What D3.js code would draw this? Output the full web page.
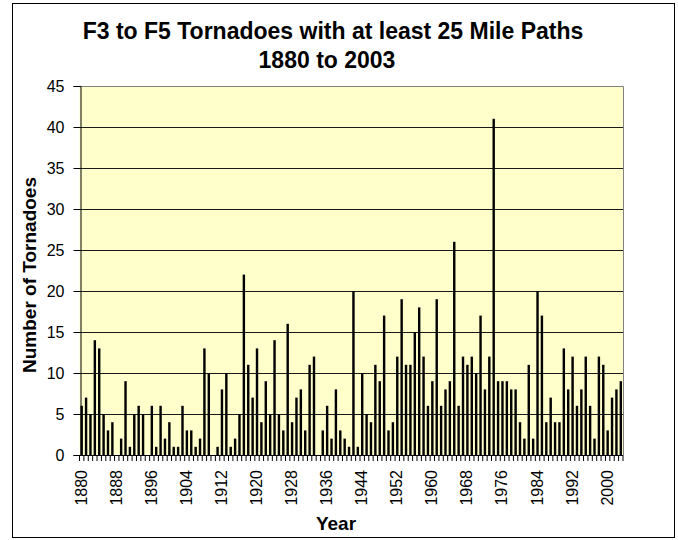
<!DOCTYPE html>
<html><head><meta charset="utf-8">
<script src="https://cdn.jsdelivr.net/npm/d3@7/dist/d3.min.js"></script>
<style>
body{margin:0;background:#fff}
svg{display:block}
text{font-family:"Liberation Sans",Arial,Helvetica,sans-serif;fill:#000}
</style>
</head><body>
<svg id="c" width="678" height="540"></svg>
<script>
const years = [
  1880,1881,1882,1883,1884,1885,1886,1887,
  1888,1889,1890,1891,1892,1893,1894,1895,
  1896,1897,1898,1899,1900,1901,1902,1903,
  1904,1905,1906,1907,1908,1909,1910,1911,
  1912,1913,1914,1915,1916,1917,1918,1919,
  1920,1921,1922,1923,1924,1925,1926,1927,
  1928,1929,1930,1931,1932,1933,1934,1935,
  1936,1937,1938,1939,1940,1941,1942,1943,
  1944,1945,1946,1947,1948,1949,1950,1951,
  1952,1953,1954,1955,1956,1957,1958,1959,
  1960,1961,1962,1963,1964,1965,1966,1967,
  1968,1969,1970,1971,1972,1973,1974,1975,
  1976,1977,1978,1979,1980,1981,1982,1983,
  1984,1985,1986,1987,1988,1989,1990,1991,
  1992,1993,1994,1995,1996,1997,1998,1999,
  2000,2001,2002,2003
];
const tornadoes = [
  6,7,5,14,13,5,3,4,
  0,2,9,1,5,6,5,0,
  6,1,6,2,4,1,1,6,
  3,3,1,2,13,10,0,1,
  8,10,1,2,5,22,11,7,
  13,4,9,5,14,5,3,16,
  4,7,8,3,11,12,0,3,
  6,2,8,3,2,1,20,1,
  10,5,4,11,9,17,3,4,
  12,19,11,11,15,18,12,6,
  9,19,6,8,9,26,6,12,
  11,12,10,17,8,12,41,9,
  9,9,8,8,4,2,11,2,
  20,17,4,7,4,4,13,8,
  12,6,8,12,6,2,12,11,
  3,7,8,9
];
const xTickLabels = ["1880","1888","1896","1904","1912","1920","1928","1936","1944","1952","1960","1968","1976","1984","1992","2000"];
const yTicks = [0,5,10,15,20,25,30,35,40,45];
const titleLines = ["F3 to F5 Tornadoes with at least 25 Mile Paths", "1880 to 2003"];
const xTitle = "Year";
const yTitle = "Number of Tornadoes";

const data = years.map((yr, i) => ({year: String(yr), value: tornadoes[i]}));

const svg = d3.select("#c");
const L = 79.5, R = 623, T = 86, B = 455;

const x = d3.scaleBand().domain(data.map(d => d.year)).range([L, R])
  .paddingInner(0.45).paddingOuter(0.225);
const y = d3.scaleLinear().domain([0, 45]).range([B, T]);
const crisp = v => Math.round(v) + 0.5;

// outer frame
svg.append("rect").attr("x", 12.5).attr("y", 3.5).attr("width", 662).attr("height", 534)
  .attr("fill", "#fff").attr("stroke", "#000").attr("stroke-width", 1);

// plot background
svg.append("rect").attr("x", L).attr("y", y(45)).attr("width", R - L).attr("height", y(0) - y(45))
  .attr("fill", "#FFFFCC");

// gridlines
svg.append("g").selectAll("line").data(yTicks.filter(v => v > 0 && v < 45)).join("line")
  .attr("x1", L).attr("x2", R)
  .attr("y1", d => crisp(y(d))).attr("y2", d => crisp(y(d)))
  .attr("stroke", "#1a1a1a").attr("stroke-width", 1);

// plot border top/right
svg.append("path")
  .attr("d", `M${L},${crisp(y(45))}H${crisp(R)}V${y(0)}`)
  .attr("fill", "none").attr("stroke", "#808080").attr("stroke-width", 1);

// bars
svg.append("g").selectAll("rect").data(data).join("rect")
  .attr("x", d => x(d.year))
  .attr("y", d => y(d.value))
  .attr("width", x.bandwidth())
  .attr("height", d => y(0) - y(d.value))
  .attr("fill", "#000");

// y axis
const yAxis = svg.append("g").attr("transform", `translate(${crisp(L)},0)`)
  .call(d3.axisLeft(y).tickValues(yTicks).tickSize(7).tickPadding(9).tickFormat(d3.format("d")));
yAxis.select(".domain").attr("stroke", "#000");
yAxis.selectAll(".tick line").attr("stroke", "#000");
yAxis.selectAll(".tick text").attr("font-size", 16).attr("font-family", "'Liberation Sans',Arial,sans-serif");

// x axis line + tick marks at category boundaries
const step = x.step();
const bounds = data.map(d => x(d.year) + x.bandwidth() / 2 - step / 2);
bounds.push(x(data[data.length - 1].year) + x.bandwidth() / 2 + step / 2);
svg.append("line").attr("x1", L).attr("x2", R).attr("y1", crisp(y(0))).attr("y2", crisp(y(0)))
  .attr("stroke", "#000");
svg.append("g").selectAll("line").data(bounds).join("line")
  .attr("x1", d => d).attr("x2", d => d)
  .attr("y1", y(0)).attr("y2", y(0) + 6)
  .attr("stroke", "#000").attr("stroke-width", 1);

// x tick labels (rotated)
svg.append("g").selectAll("text").data(xTickLabels).join("text")
  .attr("transform", d => `translate(${x(d) + x.bandwidth() / 2 + 5},470) rotate(-90)`)
  .attr("text-anchor", "end")
  .attr("font-size", 16)
  .text(d => d);

// titles
svg.append("text").attr("x", 333).attr("y", 39).attr("text-anchor", "middle")
  .attr("font-size", 23).attr("font-weight", "bold").text(titleLines[0]);
svg.append("text").attr("x", 327).attr("y", 68).attr("text-anchor", "middle")
  .attr("font-size", 23).attr("font-weight", "bold").text(titleLines[1]);

svg.append("text").attr("x", 336).attr("y", 530).attr("text-anchor", "middle")
  .attr("font-size", 19).attr("font-weight", "bold").text(xTitle);
svg.append("text").attr("transform", "translate(36,275) rotate(-90)").attr("text-anchor", "middle")
  .attr("font-size", 19).attr("font-weight", "bold").text(yTitle);
</script>
</body></html>
